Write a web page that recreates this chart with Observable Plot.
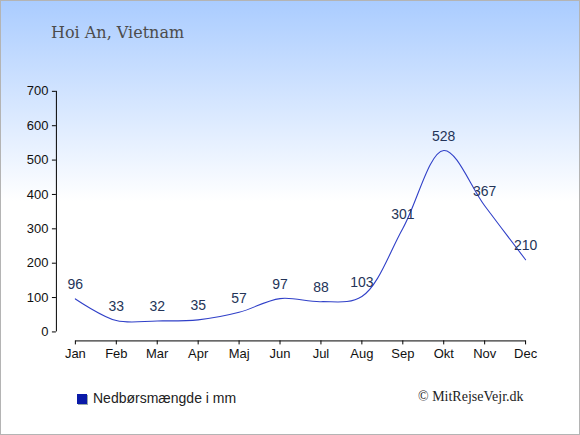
<!DOCTYPE html>
<html>
<head>
<meta charset="utf-8">
<script src="https://cdn.jsdelivr.net/npm/d3@7"></script>
<script src="https://cdn.jsdelivr.net/npm/@observablehq/plot@0.6"></script>
<style>
  html, body { margin: 0; padding: 0; }
  #wrap {
    position: relative; width: 580px; height: 435px; box-sizing: border-box;
    border: 1px solid #b4b4b4; overflow: hidden;
    background: linear-gradient(to bottom, #aaccff 0px, #ffffff 200px, #ffffff 435px);
  }
  #title { position: absolute; left: 50px; top: 22px; font-family: "DejaVu Serif", serif; font-size: 16px; color: #4c4c4c; white-space: nowrap; }
  #chart { position: absolute; left: -1px; top: -1px; }
  #legend { position: absolute; left: 76px; top: 389px; font-family: "Liberation Sans", Arial, sans-serif; font-size: 14px; color: #222; white-space: nowrap; }
  #legend .sw { display: inline-block; width: 10px; height: 10px; background: #0a1aa8; margin-right: 6px; vertical-align: -1px; box-shadow: 1px 1px 0 #9aa; }
  #credit { position: absolute; left: 417px; top: 388px; font-family: "Liberation Serif", serif; font-size: 14px; color: #222; white-space: nowrap; }
</style>
</head>
<body>
<div id="wrap">
  <div id="title">Hoi An, Vietnam</div>
  <div id="chart"></div>
  <div id="legend"><span class="sw"></span>Nedbørsmængde i mm</div>
  <div id="credit">© MitRejseVejr.dk</div>
</div>
<script>
const months = ["Jan","Feb","Mar","Apr","Maj","Jun","Jul","Aug","Sep","Okt","Nov","Dec"];
const rain = [96, 33, 32, 35, 57, 97, 88, 103, 301, 528, 367, 210];
const yTicks = [0, 100, 200, 300, 400, 500, 600, 700];

const data = months.map((m, i) => ({month: m, value: rain[i]}));
const axisLine = [{a: months[0], b: months[months.length - 1]}];

const chart = Plot.plot({
  width: 580,
  height: 380,
  marginTop: 90,
  marginLeft: 56,
  marginRight: 55,
  marginBottom: 38,
  style: {background: "transparent", fontFamily: "Liberation Sans, Arial, sans-serif", fontSize: "12px", color: "#111", overflow: "visible"},
  x: {type: "point", domain: months, range: [75, 526], padding: 0, axis: null, label: null},
  y: {domain: [0, 700], range: [332, 91], label: null},
  marks: [
    Plot.axisY({ticks: yTicks, tickSize: 4, tickPadding: 4, label: null, stroke: "#000", fill: "#111", fontSize: 13}),
    Plot.ruleX([months[0]], {x: d => d, y1: () => 0, y2: () => 700, dx: -19, stroke: "#000"}),
    Plot.ruleX(months, {x: d => d, y1: () => 0, y2: () => 0, insetBottom: -13, insetTop: 9, stroke: "#000"}),
    Plot.link(axisLine, {x1: "a", x2: "b", y1: () => 0, y2: () => 0, dy: 9, stroke: "#000"}),
    Plot.text(months, {x: d => d, y: () => 0, text: d => d, dy: 22, fill: "#111", fontSize: 13}),
    Plot.line(data, {x: "month", y: "value", curve: "catmull-rom", stroke: "#3040c8", strokeWidth: 1.1}),
    Plot.text(data, {x: "month", y: "value", text: d => String(d.value), dy: -14, fill: "#243458", fontSize: 14})
  ]
});
document.getElementById("chart").appendChild(chart);
</script>
</body>
</html>
